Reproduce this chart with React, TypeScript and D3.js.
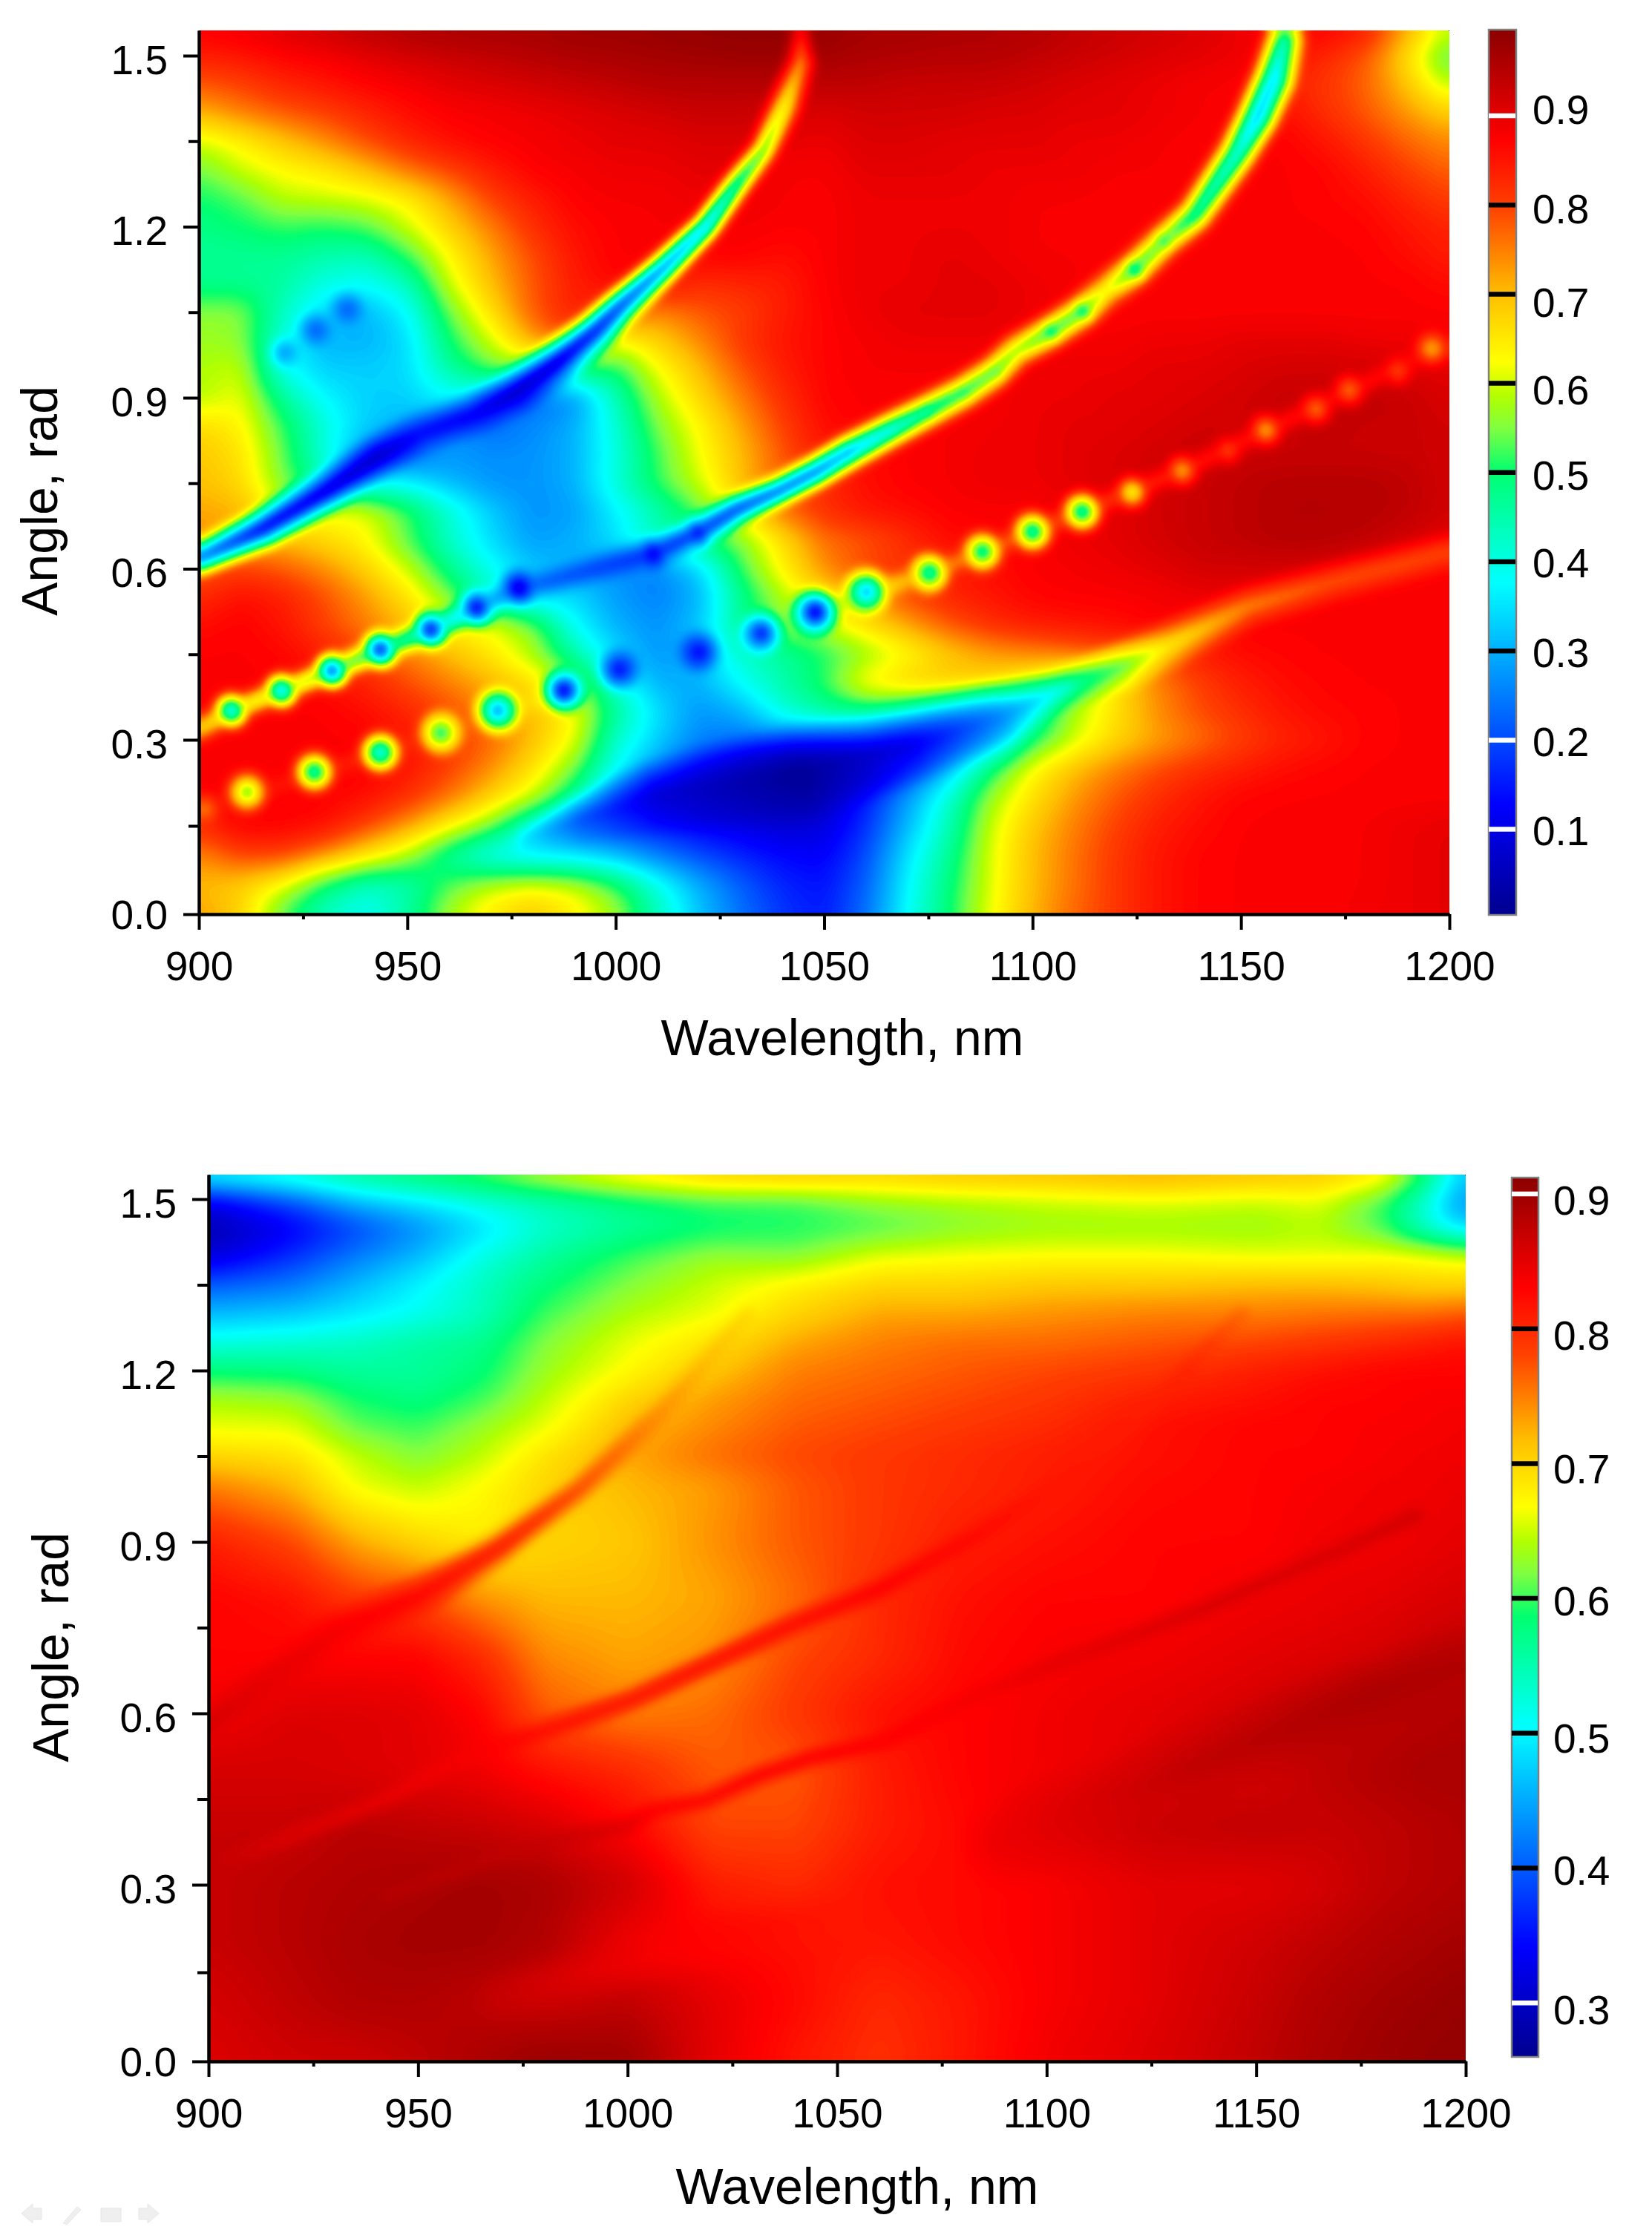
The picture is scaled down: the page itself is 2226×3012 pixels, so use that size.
import React, { useEffect, useRef } from "react";
import * as d3 from "d3";

// wavelength columns / angle rows of the two read-off tables
const topWavelengths = d3.range(900, 1201, 10);
const topAngles = [1.54, 1.5, 1.45, 1.4, 1.35, 1.3, 1.25, 1.2, 1.15, 1.1, 1.05, 1, 0.95, 0.9, 0.85, 0.8, 0.75, 0.7, 0.65, 0.6, 0.55, 0.5, 0.45, 0.4, 0.35, 0.3, 0.25, 0.2, 0.15, 0.1, 0.05, 0];
const topValues = [
  [.88,.89,.91,.93,.95,.96,.97,.97,.97,.98,.98,.985,.99,.99,.99,.985,.97,.97,.965,.96,.955,.94,.93,.92,.91,.89,.875,.875,.85,.72,.6],
  [.84,.85,.87,.88,.90,.92,.93,.94,.95,.96,.965,.97,.975,.98,.98,.97,.96,.955,.95,.95,.94,.93,.92,.91,.90,.89,.86,.83,.78,.66,.5],
  [.78,.80,.83,.85,.87,.88,.90,.91,.92,.93,.94,.95,.95,.95,.95,.94,.94,.93,.93,.93,.92,.91,.90,.89,.88,.875,.84,.81,.77,.69,.58],
  [.71,.75,.78,.80,.83,.86,.875,.88,.89,.90,.91,.92,.93,.93,.92,.91,.92,.92,.92,.91,.91,.90,.90,.89,.88,.875,.86,.82,.78,.73,.68],
  [.60,.64,.69,.74,.79,.83,.86,.875,.88,.89,.90,.90,.91,.91,.90,.89,.91,.91,.90,.90,.90,.89,.89,.88,.875,.875,.875,.85,.81,.77,.74],
  [.54,.60,.63,.65,.70,.76,.80,.84,.875,.88,.89,.89,.90,.90,.88,.88,.90,.90,.90,.89,.89,.89,.88,.88,.875,.875,.875,.87,.84,.8,.77],
  [.50,.53,.59,.60,.61,.64,.72,.80,.84,.875,.88,.88,.89,.89,.88,.875,.89,.89,.89,.89,.88,.88,.875,.875,.875,.875,.875,.87,.86,.83,.80],
  [.48,.50,.52,.51,.53,.60,.68,.75,.82,.86,.875,.88,.88,.88,.875,.875,.89,.89,.89,.89,.88,.875,.875,.875,.875,.875,.875,.875,.87,.85,.83],
  [.47,.47,.47,.45,.44,.52,.63,.72,.79,.85,.875,.875,.875,.875,.86,.875,.89,.89,.90,.89,.88,.88,.875,.875,.875,.875,.875,.875,.875,.86,.84],
  [.47,.47,.46,.40,.38,.43,.60,.70,.78,.84,.87,.87,.82,.83,.84,.875,.89,.89,.90,.90,.89,.88,.875,.875,.875,.875,.875,.875,.875,.875,.86],
  [.56,.56,.43,.34,.30,.37,.54,.66,.78,.84,.80,.74,.78,.80,.84,.87,.89,.90,.90,.90,.89,.88,.875,.875,.875,.875,.875,.875,.875,.875,.875],
  [.57,.56,.40,.30,.30,.34,.50,.60,.72,.80,.62,.68,.74,.81,.85,.87,.88,.89,.89,.89,.88,.88,.88,.89,.89,.90,.90,.90,.89,.89,.88],
  [.58,.60,.38,.33,.33,.34,.46,.54,.56,.50,.50,.62,.70,.78,.84,.87,.88,.88,.88,.88,.89,.89,.89,.90,.90,.91,.92,.92,.92,.91,.90],
  [.58,.62,.47,.37,.33,.33,.37,.32,.22,.26,.44,.58,.67,.75,.82,.87,.875,.875,.875,.88,.89,.89,.90,.90,.91,.92,.93,.93,.94,.93,.91],
  [.67,.64,.52,.41,.33,.3,.3,.22,.26,.3,.41,.55,.63,.72,.80,.86,.875,.875,.88,.885,.89,.90,.90,.91,.92,.92,.93,.94,.93,.93,.92],
  [.69,.66,.54,.40,.27,.22,.27,.27,.27,.3,.4,.52,.62,.70,.78,.85,.86,.875,.88,.89,.89,.90,.91,.92,.93,.93,.93,.93,.93,.93,.92],
  [.70,.67,.55,.45,.37,.37,.31,.27,.27,.30,.41,.52,.60,.70,.78,.82,.86,.875,.88,.89,.89,.90,.91,.92,.93,.94,.95,.95,.95,.94,.92],
  [.72,.71,.62,.62,.62,.53,.42,.33,.27,.28,.36,.44,.53,.66,.76,.82,.85,.86,.875,.875,.875,.89,.90,.92,.93,.94,.95,.95,.95,.94,.92],
  [.74,.72,.70,.67,.63,.53,.42,.34,.28,.30,.35,.45,.50,.55,.66,.76,.78,.82,.86,.875,.875,.89,.90,.92,.93,.94,.95,.95,.94,.92,.90],
  [.78,.80,.78,.74,.68,.60,.48,.39,.32,.3,.27,.25,.33,.52,.64,.74,.80,.82,.84,.86,.875,.88,.89,.9,.92,.92,.92,.91,.89,.875,.875],
  [.82,.86,.84,.79,.73,.66,.55,.42,.33,.34,.28,.25,.3,.47,.58,.66,.72,.79,.83,.85,.87,.875,.875,.88,.89,.89,.88,.88,.875,.875,.875],
  [.86,.875,.85,.80,.75,.70,.64,.62,.56,.38,.3,.27,.32,.48,.56,.6,.66,.72,.78,.82,.84,.85,.86,.875,.875,.875,.875,.875,.875,.875,.875],
  [.875,.875,.87,.84,.80,.75,.70,.65,.58,.45,.34,.27,.31,.42,.46,.5,.56,.62,.68,.72,.74,.76,.78,.82,.84,.86,.87,.875,.875,.875,.875],
  [.875,.875,.875,.86,.83,.79,.75,.71,.66,.58,.40,.3,.3,.38,.45,.52,.65,.69,.70,.68,.63,.54,.66,.74,.80,.84,.86,.87,.875,.875,.875],
  [.875,.875,.875,.875,.86,.83,.79,.74,.70,.63,.47,.35,.27,.30,.41,.46,.48,.45,.38,.3,.42,.58,.66,.74,.79,.82,.85,.865,.87,.875,.875],
  [.875,.875,.875,.875,.875,.85,.82,.77,.70,.62,.42,.33,.26,.24,.25,.27,.33,.25,.22,.30,.50,.60,.67,.72,.76,.80,.83,.85,.87,.875,.875],
  [.875,.875,.875,.875,.875,.85,.80,.74,.66,.55,.38,.28,.17,.1,.06,.05,.07,.18,.31,.50,.63,.70,.75,.79,.82,.84,.86,.87,.875,.875,.875],
  [.875,.875,.875,.875,.86,.82,.76,.68,.60,.47,.28,.15,.08,.06,.05,.06,.15,.28,.42,.57,.66,.73,.78,.82,.85,.87,.875,.875,.875,.875,.875],
  [.82,.875,.875,.86,.80,.73,.64,.55,.40,.28,.19,.15,.12,.1,.08,.09,.17,.31,.44,.60,.69,.75,.80,.84,.86,.875,.875,.875,.88,.89,.90],
  [.74,.80,.80,.74,.66,.58,.45,.36,.33,.33,.31,.25,.2,.16,.13,.12,.2,.35,.47,.61,.70,.76,.81,.85,.87,.875,.875,.875,.88,.89,.90],
  [.70,.68,.62,.50,.42,.44,.53,.59,.62,.60,.52,.40,.3,.22,.16,.14,.22,.37,.49,.61,.70,.76,.81,.85,.87,.875,.875,.875,.88,.89,.90],
  [.73,.68,.52,.42,.38,.46,.58,.66,.70,.65,.58,.44,.32,.24,.18,.15,.24,.38,.50,.62,.71,.77,.81,.85,.87,.875,.875,.875,.885,.89,.90],
];

// narrow features: [wavelength, angle, value, half width in nm]
type Pt = [number, number, number, number];
const topRidgeA: Pt[] = [[900,.618,.2,5],[915.4,.671,.08,6],[930.6,.737,.06,6],[943,.797,.05,6],[953,.837,.12,6],[966,.87,.1,6],[976,.909,.05,6.5],[986,.962,.05,6.5],[995,1.016,.1,6],[1001.4,1.062,.15,5.5],[1011.5,1.128,.22,5],[1021.6,1.2,.28,4.5],[1029,1.274,.4,4.5],[1035.5,1.334,.5,4.2],[1040.6,1.413,.6,5],[1044.4,1.486,.72,4.5],[1044.4,1.543,.87,3]];
const topRidgeB: Pt[] = [[900,.318,.66,4],[907.8,.351,.6,4],[919.8,.386,.58,4],[931.9,.421,.52,4],[943.5,.458,.45,4],[955.6,.493,.38,4],[966.6,.531,.3,4],[976.7,.566,.22,4],[985,.58,.2,4],[1009,.627,.15,4.5],[1019.7,.663,.15,4.5],[1029,.704,.15,4.5],[1039.3,.737,.18,4.5],[1048,.77,.2,5],[1055.8,.804,.26,5.5],[1065.9,.843,.34,5.5],[1074.7,.876,.42,5.5],[1083.5,.91,.47,5.5],[1091,.946,.5,5.5],[1096,.982,.55,5.5],[1104.4,1.016,.48,5.5],[1112,1.052,.5,5.5],[1117.6,1.088,.6,5.5],[1124.5,1.125,.48,5.5],[1131.5,1.175,.52,5.5],[1139,1.221,.42,5.5],[1149,1.327,.36,6],[1154,1.393,.28,6.5],[1158,1.46,.3,6.5],[1160.5,1.525,.4,6],[1160,1.543,.62,5]];
const topRidgeC: Pt[] = [[900,.175,.86,3],[958,.312,.82,3.5],[987.5,.386,.6,4],[1047.9,.524,.55,4],[1075.3,.593,.72,3.5],[1100,.665,.78,3.5],[1135.9,.772,.84,3.5],[1200,.995,.86,3.5]];
const topRidgeD: Pt[] = [[1200,.63,.79,5.5],[1170.6,.574,.78,6],[1151.6,.534,.74,6],[1132.7,.465,.64,7],[1121.4,.428,.52,7],[1111.3,.401,.46,6],[1093.6,.352,.3,6]];
const topRidgeE: Pt[] = [[1110,.405,.47,4],[1088.6,.378,.47,4],[1063.4,.342,.47,4],[1050,.339,.47,4]];
const topRidgeF: Pt[] = [[979,.128,.34,4],[992,.16,.2,7],[1010,.2,.08,10],[1044,.24,.01,13],[1071,.29,.1,10],[1092,.34,.25,8],[1109,.395,.4,4]];
const topBeads: Pt[] = [
  [907.8,.351,.28,5.5],[919.8,.386,.25,5.5],[931.9,.421,.12,5.5],[943.5,.458,.06,5.5],[955.6,.493,.05,5.5],[966.6,.531,.05,5.5],[976.7,.566,.04,5.5],[1009,.627,.06,5],[1019.7,.663,.06,5],
  [1055.8,.804,.2,5],[1065.9,.843,.3,5],[1074.7,.876,.36,5],[1083.5,.91,.42,5],[1091,.946,.45,5],[1104.4,1.016,.38,5],[1112,1.052,.38,5],[1124.5,1.125,.36,5],[1131.5,1.175,.42,5],
  [901.5,.18,.74,4.5],[911.6,.209,.5,6],[927.7,.244,.37,6],[943.5,.278,.3,6],[958,.312,.45,6.5],[971.7,.351,.22,6.5],[987.5,.386,.03,6],[1000.8,.423,.1,6],[1020,.454,.1,6],[1034.9,.487,.1,6],[1047.9,.524,.03,6.5],[1060.2,.56,.25,6.5],[1075.3,.593,.38,6],[1088,.63,.39,6],[1100,.665,.37,6],[1111.9,.7,.37,6],[1123.9,.734,.58,5],[1135.9,.772,.68,5],[1146.9,.807,.78,4.5],[1156,.843,.68,5],[1168,.88,.73,5],[1176,.913,.73,5],[1187.6,.946,.78,4.5],[1195.8,.986,.68,5],
  [935.6,1.056,.2,5],[928,1.019,.2,5],[920.5,.979,.26,4.5],
];

const bottomWavelengths = [900, 920, 935, 950, 965, 980, 1000, 1020, 1040, 1060, 1080, 1100, 1125, 1150, 1165, 1180, 1190, 1200];
const bottomAngles = [1.54, 1.5, 1.45, 1.4, 1.35, 1.3, 1.25, 1.2, 1.15, 1.1, 1.05, 1, 0.9, 0.8, 0.7, 0.6, 0.5, 0.4, 0.3, 0.2, 0.1, 0];
const bottomValues = [
  [.54,.56,.58,.60,.62,.66,.70,.73,.74,.72,.73,.73,.74,.73,.72,.70,.60,.47],
  [.33,.40,.47,.50,.53,.55,.58,.60,.60,.63,.64,.65,.66,.65,.66,.60,.53,.42],
  [.28,.33,.38,.43,.48,.53,.56,.58,.59,.60,.62,.63,.63,.63,.64,.60,.53,.47],
  [.31,.37,.42,.46,.52,.56,.60,.63,.62,.66,.668,.67,.67,.66,.66,.67,.67,.66],
  [.40,.42,.46,.50,.54,.58,.62,.65,.68,.70,.70,.71,.71,.72,.72,.71,.70,.70],
  [.46,.47,.49,.51,.54,.60,.64,.66,.70,.73,.73,.74,.75,.75,.755,.76,.76,.77],
  [.52,.53,.54,.56,.57,.62,.66,.69,.73,.75,.76,.76,.77,.78,.79,.80,.81,.82],
  [.58,.575,.56,.56,.58,.63,.67,.71,.75,.76,.77,.78,.79,.81,.82,.83,.83,.83],
  [.64,.63,.59,.575,.60,.645,.70,.735,.76,.77,.78,.79,.81,.82,.83,.83,.835,.835],
  [.66,.66,.61,.60,.63,.66,.72,.745,.77,.78,.79,.80,.82,.83,.83,.835,.835,.84],
  [.70,.69,.65,.62,.645,.69,.73,.76,.78,.79,.80,.81,.82,.83,.83,.835,.84,.84],
  [.75,.72,.66,.645,.67,.70,.72,.735,.77,.79,.80,.81,.825,.83,.835,.84,.84,.845],
  [.81,.78,.73,.70,.68,.70,.71,.74,.77,.79,.81,.82,.83,.83,.84,.84,.845,.85],
  [.83,.82,.79,.78,.74,.72,.72,.73,.76,.80,.82,.83,.83,.84,.845,.85,.855,.86],
  [.83,.83,.83,.83,.80,.745,.73,.74,.78,.80,.825,.835,.84,.85,.855,.86,.87,.875],
  [.84,.855,.855,.85,.83,.77,.75,.76,.79,.82,.83,.84,.85,.86,.87,.875,.88,.885],
  [.86,.86,.855,.85,.84,.82,.80,.77,.77,.81,.83,.84,.85,.86,.875,.885,.89,.89],
  [.87,.87,.88,.875,.87,.86,.83,.78,.78,.81,.825,.85,.87,.875,.87,.875,.88,.885],
  [.87,.88,.885,.89,.895,.89,.865,.81,.80,.82,.825,.835,.85,.85,.86,.875,.88,.885],
  [.87,.88,.89,.895,.895,.885,.84,.83,.82,.815,.825,.835,.85,.865,.875,.885,.89,.895],
  [.86,.875,.885,.885,.875,.865,.875,.85,.825,.80,.815,.835,.85,.87,.885,.895,.90,.905],
  [.855,.865,.865,.875,.89,.905,.90,.85,.815,.795,.815,.84,.855,.875,.89,.90,.905,.905],
];
const bottomRidgeA: Pt[] = [[900,.582,.86,4],[913,.651,.85,5],[930.7,.743,.84,6],[950.8,.808,.83,6],[969.6,.891,.82,5],[988.4,.992,.785,4],[1007.3,1.121,.745,4],[1019.8,1.223,.72,3.5],[1028.6,1.297,.70,3]];
const bottomRidgeB: Pt[] = [[903,.338,.87,3.5],[919.3,.384,.855,3.5],[943,.453,.845,3.5],[963.3,.531,.835,3.5],[979.6,.568,.825,3.5],[1001,.624,.825,3.5],[1019.8,.688,.83,3.5],[1038.7,.753,.83,3.5],[1060,.817,.835,3.5],[1085,.919,.825,3.5],[1102.6,1,.815,3.5],[1118.9,1.094,.81,3],[1134,1.204,.805,3],[1146.5,1.297,.765,3]];
const bottomRidgeC: Pt[] = [[943,.282,.88,3],[968,.347,.875,3],[983.4,.379,.87,3],[999.7,.402,.855,3],[1006,.43,.835,3],[1018.6,.448,.835,3],[1031,.49,.84,3],[1043.7,.522,.84,3],[1061,.55,.835,3],[1083.7,.633,.84,3],[1102.6,.688,.85,3],[1120,.734,.855,3],[1136.5,.78,.86,3],[1169,.882,.86,3],[1188,.946,.865,3]];
const bottomRidgeD: Pt[] = [[1090,.375,.845,12],[1134,.504,.875,12],[1178,.633,.89,11],[1200,.688,.885,10]];
const bottomRidgeE: Pt[] = [[970,.11,.87,7],[1007.6,.185,.835,8],[1049,.24,.815,8]];

const xMajor = [900, 950, 1000, 1050, 1100, 1150, 1200];
const xMinor = [925, 975, 1025, 1075, 1125, 1175];
const yMajor = [0, 0.3, 0.6, 0.9, 1.2, 1.5];
const yMinor = [0.15, 0.45, 0.75, 1.05, 1.35];

const colormap = d3
  .scaleLinear<string>()
  .domain([0, 0.125, 0.375, 0.5, 0.55, 0.585, 0.625, 0.7, 0.75, 0.8, 0.875, 1])
  .range(["#00008f", "#0000ff", "#00ffff", "#00ff70", "#80ff40", "#b0ff00", "#ffff00", "#ffc000", "#ff8000", "#ff4000", "#ff0000", "#8b0000"])
  .clamp(true);

const FONT = "'Liberation Sans', Arial, sans-serif";
const CELL = 4;

const plots = [
  {
    wavelengths: topWavelengths, angles: topAngles, values: topValues,
    ridges: [topRidgeA, topRidgeB, topRidgeC, topRidgeD, topRidgeE, topRidgeF], beads: topBeads, lowerOnly: true,
    xRange: [268, 1953], yRange: [1232, 1113, 997, 75, 41],
    yLabelRight: 226, minorY: 14, majorY: 21, xBase: 1321,
    xTitle: [1135, 1422], yTitle: [77, 675],
    vMin: 0.004, vMax: 0.9965, levelCount: 170,
    bar: { x: 2006, w: 37, top: 40, bottom: 1233, y90: 156, perTenth: 120.2, labelX: 2065 },
    barTicks: [0.9, 0.8, 0.7, 0.6, 0.5, 0.4, 0.3, 0.2, 0.1],
    barWhite: [0.9, 0.2, 0.1],
    barLabelDy: [11, 25, 31, 28, 23, 21, 22, 22, 21],
  },
  {
    wavelengths: bottomWavelengths, angles: bottomAngles, values: bottomValues,
    ridges: [bottomRidgeD, bottomRidgeE, bottomRidgeA, bottomRidgeB, bottomRidgeC], beads: [] as Pt[], lowerOnly: false,
    xRange: [281, 1975], yRange: [2778, 2658, 2540, 1616, 1583],
    yLabelRight: 238, minorY: 15, majorY: 22, xBase: 2867,
    xTitle: [1155, 2970], yTitle: [92, 2220],
    vMin: 0.26, vMax: 0.9124, levelCount: 230,
    bar: { x: 2037, w: 36, top: 1587, bottom: 2772, y90: 1609, perTenth: 181.7, labelX: 2093 },
    barTicks: [0.9, 0.8, 0.7, 0.6, 0.5, 0.4, 0.3],
    barWhite: [0.9, 0.3],
    barLabelDy: [28, 28, 27, 23, 26, 22, 29],
  },
];

function buildField(p: (typeof plots)[number], x: d3.ScaleLinear<number, number>, y: d3.ScaleLinear<number, number>) {
  const [x0, x1] = p.xRange;
  const y0 = p.yRange[p.yRange.length - 1];
  const y1 = p.yRange[0];
  const nx = Math.round((x1 - x0) / CELL);
  const ny = Math.round((y1 - y0) / CELL);
  const colIdx = d3.scaleLinear().domain(p.wavelengths).range(p.wavelengths.map((_, i) => i)).clamp(true);
  const rowIdx = d3.scaleLinear().domain(p.angles).range(p.angles.map((_, i) => i)).clamp(true);
  const cw = (x1 - x0) / nx;
  const ch = (y1 - y0) / ny;

  // base table sampled on the drawing grid
  const data = new Float64Array(nx * ny);
  for (let j = 0; j < ny; j++) {
    const r = rowIdx(y.invert(y0 + (j + 0.5) * ch));
    const r0 = Math.min(Math.floor(r), p.angles.length - 2);
    const fr = r - r0;
    for (let i = 0; i < nx; i++) {
      const c = colIdx(x.invert(x0 + (i + 0.5) * cw));
      const c0 = Math.min(Math.floor(c), p.wavelengths.length - 2);
      const fc = c - c0;
      const a = p.values[r0][c0] * (1 - fc) + p.values[r0][c0 + 1] * fc;
      const b = p.values[r0 + 1][c0] * (1 - fc) + p.values[r0 + 1][c0 + 1] * fc;
      data[j * nx + i] = a * (1 - fr) + b * fr;
    }
  }
  d3.blur2({ data, width: nx, height: ny }, 3);

  // narrow ridges and beads on top of the base
  const pxPerNm = (x1 - x0) / 300;
  const toPx = (q: Pt) => [x(q[0]), y(q[1]), q[2], q[3] * pxPerNm];
  const lines = [...p.ridges.map((r) => r.map(toPx)), ...p.beads.map((b) => [toPx(b)])];
  const segments: number[][] = [];
  lines.forEach((l) => {
    if (l.length === 1) segments.push([...l[0], ...l[0]]);
    for (let s = 0; s < l.length - 1; s++) segments.push([...l[s], ...l[s + 1]]);
  });

  for (let j = 0; j < ny; j++) {
    const py = y0 + (j + 0.5) * ch;
    for (let i = 0; i < nx; i++) {
      const px = x0 + (i + 0.5) * cw;
      const base = data[j * nx + i];
      let best = base;
      let pull = 0;
      let pullV = base;
      for (const [ax, ay, av, aw, bx, by, bv, bw] of segments) {
        const dx = bx - ax;
        const dy = by - ay;
        const len = dx * dx + dy * dy;
        let u = len > 0 ? ((px - ax) * dx + (py - ay) * dy) / len : 0;
        u = u < 0 ? 0 : u > 1 ? 1 : u;
        const ex = ax + u * dx - px;
        const ey = ay + u * dy - py;
        const w = aw + (bw - aw) * u;
        const d2 = ex * ex + ey * ey;
        if (d2 >= w * w) continue;
        const t = Math.sqrt(d2) / w;
        const v = av + (bv - av) * u;
        if (p.lowerOnly) {
          const cand = v + (base - v) * t;
          if (cand < best) best = cand;
        } else if (1 - t > pull) {
          pull = 1 - t;
          pullV = v;
        }
      }
      data[j * nx + i] = p.lowerOnly ? best : base + (pullV - base) * pull;
    }
  }
  d3.blur2({ data, width: nx, height: ny }, 1);
  return { data, nx, ny, cw, ch };
}

function drawPlot(svg: d3.Selection<SVGSVGElement, unknown, null, undefined>, p: (typeof plots)[number], idx: number) {
  const x = d3.scaleLinear().domain([900, 1200]).range(p.xRange);
  const y = d3.scaleLinear().domain([0, 0.15, 0.3, 1.5, 1.54]).range(p.yRange);
  const toColor = (v: number) => colormap((v - p.vMin) / (p.vMax - p.vMin));
  const { data, nx, ny, cw, ch } = buildField(p, x, y);

  const step = (p.vMax - p.vMin) / p.levelCount;
  const levels = d3.range(p.vMin, p.vMax, step);
  const contours = d3.contours().size([nx, ny]).thresholds(levels)(Array.from(data));
  const path = d3.geoPath();
  if ((path as any).digits) (path as any).digits(2);

  const heat = svg
    .append("g")
    .attr("transform", `translate(${p.xRange[0]},${y(1.54)}) scale(${cw},${ch})`);
  heat.append("rect").attr("width", nx).attr("height", ny).attr("fill", toColor(p.vMin));
  heat
    .selectAll("path")
    .data(contours.filter((c) => c.coordinates.length > 0))
    .enter()
    .append("path")
    .attr("d", (c) => path(c) as string)
    .attr("fill", (c) => toColor(c.value + step / 2));

  // axes
  const bottomY = p.yRange[0];
  const styleAxis = (g: any) => {
    g.selectAll("path,line").attr("stroke", "#000").attr("stroke-width", 4);
    g.selectAll("text").attr("font-family", FONT).attr("font-size", 55).attr("fill", "#000");
  };
  svg
    .append("g")
    .attr("transform", `translate(0,${bottomY})`)
    .call(d3.axisBottom(x).tickValues(xMinor).tickSize(7).tickSizeOuter(0).tickFormat(() => ""))
    .call(styleAxis);
  svg
    .append("g")
    .attr("transform", `translate(0,${bottomY})`)
    .call(d3.axisBottom(x).tickValues(xMajor).tickSize(21).tickSizeOuter(0).tickFormat(d3.format("d") as any))
    .call(styleAxis)
    .call((g) => g.selectAll("text").attr("y", p.xBase - bottomY).attr("dy", 0));
  svg
    .append("g")
    .attr("transform", `translate(${p.xRange[0]},0)`)
    .call(d3.axisLeft(y).tickValues(yMinor).tickSize(p.minorY).tickSizeOuter(0).tickFormat(() => ""))
    .call(styleAxis);
  svg
    .append("g")
    .attr("transform", `translate(${p.xRange[0]},0)`)
    .call(d3.axisLeft(y).tickValues(yMajor).tickSize(p.majorY).tickSizeOuter(0).tickFormat(d3.format(".1f") as any))
    .call(styleAxis)
    .call((g) =>
      g
        .selectAll("text")
        .attr("x", p.yLabelRight - p.xRange[0])
        .attr("dy", (d: any) => (d === 0 ? 19 : 24))
    );

  svg
    .append("text")
    .attr("x", p.xTitle[0])
    .attr("y", p.xTitle[1])
    .attr("text-anchor", "middle")
    .attr("font-family", FONT)
    .attr("font-size", 68)
    .text("Wavelength, nm");
  svg
    .append("text")
    .attr("transform", `translate(${p.yTitle[0]},${p.yTitle[1]}) rotate(-90)`)
    .attr("text-anchor", "middle")
    .attr("font-family", FONT)
    .attr("font-size", 68)
    .text("Angle, rad");

  // colour bar
  const b = p.bar;
  const barY = d3.scaleLinear().domain([0.9, 0.8]).range([b.y90, b.y90 + b.perTenth]);
  const gradId = "bar" + idx;
  const grad = svg.append("defs").append("linearGradient").attr("id", gradId).attr("x1", 0).attr("x2", 0).attr("y1", 0).attr("y2", 1);
  d3.range(0, 81).forEach((k) => {
    const f = k / 80;
    grad
      .append("stop")
      .attr("offset", f)
      .attr("stop-color", toColor(barY.invert(b.top + f * (b.bottom - b.top))));
  });
  svg
    .append("rect")
    .attr("x", b.x)
    .attr("y", b.top)
    .attr("width", b.w)
    .attr("height", b.bottom - b.top)
    .attr("fill", `url(#${gradId})`)
    .attr("stroke", "#808080")
    .attr("stroke-width", 2.5);
  svg
    .selectAll(null)
    .data(p.barTicks)
    .enter()
    .append("line")
    .attr("x1", b.x)
    .attr("x2", b.x + b.w - 1)
    .attr("y1", (d) => barY(d))
    .attr("y2", (d) => barY(d))
    .attr("stroke", (d) => (p.barWhite.includes(d) ? "#fff" : "#000"))
    .attr("stroke-width", 6.5);
  svg
    .selectAll(null)
    .data(p.barTicks)
    .enter()
    .append("text")
    .attr("x", b.labelX)
    .attr("y", (d, i) => barY(d) + p.barLabelDy[i])
    .attr("font-family", FONT)
    .attr("font-size", 55)
    .text((d) => d.toFixed(1));
}

export default function App() {
  const ref = useRef<SVGSVGElement>(null);

  useEffect(() => {
    if (!ref.current) return;
    const svg = d3.select(ref.current);
    svg.selectAll("*").remove();
    plots.forEach((p, i) => drawPlot(svg as any, p, i));

    // faint slide-show controls in the corner of the slide
    const nav = svg.append("g").attr("fill", "#efefef").attr("stroke", "#e6e6e6").attr("stroke-width", 1);
    nav.append("path").attr("d", "M29 2983 L44 2970 L44 2976 L56 2976 L56 2991 L44 2991 L44 2996 Z");
    nav.append("path").attr("d", "M85 2996 L104 2974 L109 2978 L90 2998 Z");
    nav.append("rect").attr("x", 136).attr("y", 2976).attr("width", 27).attr("height", 18);
    nav.append("path").attr("d", "M214 2983 L199 2970 L199 2976 L187 2976 L187 2991 L199 2991 L199 2996 Z");

    return () => {
      svg.selectAll("*").remove();
    };
  }, []);

  return (
    <svg
      ref={ref}
      width={2226}
      height={3012}
      style={{ position: "absolute", left: 0, top: 0, display: "block", background: "#fff" }}
    />
  );
}
